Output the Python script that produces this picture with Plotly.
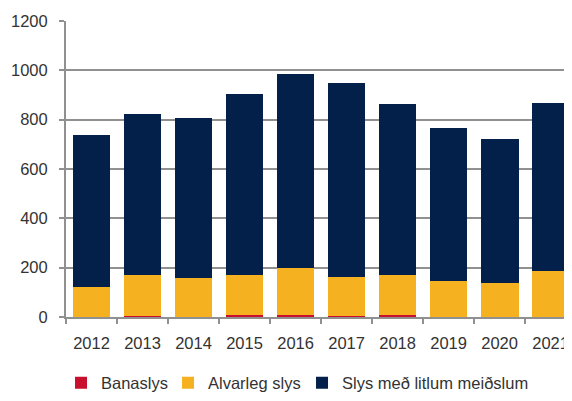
import plotly.graph_objects as go

years = ["2012", "2013", "2014", "2015", "2016", "2017", "2018", "2019", "2020", "2021"]
banaslys = [1, 4, 1, 8, 8, 4, 8, 1, 1, 1]
alvarleg = [119, 165, 159, 161, 189, 160, 161, 144, 135, 187]
litlum = [617, 652, 646, 737, 787, 786, 696, 622, 587, 680]
names = ["Banaslys", "Alvarleg slys", "Slys með litlum meiðslum"]
colors = ["#c8102e", "#f5b120", "#03204a"]
legend_widths = [62, 89, 190]

fig = go.Figure()
for vals, name, col, lw in zip([banaslys, alvarleg, litlum], names, colors, legend_widths):
    fig.add_trace(go.Bar(x=years, y=vals, name=name, marker=dict(color=col, line=dict(width=0)),
                         legendwidth=lw))

# page body has an 8px default margin, so the figure is sized/offset to compensate
fig.update_layout(
    barmode="stack",
    bargap=0.26,
    width=564, height=385,
    margin=dict(l=55, r=3, t=13, b=76),
    paper_bgcolor="white", plot_bgcolor="white",
    font=dict(family="Liberation Sans, Arial, sans-serif", size=16.5, color="#333333"),
    showlegend=True,
    legend=dict(orientation="h", xref="container", yref="container", x=0.094, y=0.026,
                xanchor="left", yanchor="middle", font=dict(size=16.5, color="#333333"),
                traceorder="normal", bgcolor="rgba(0,0,0,0)"),
    xaxis=dict(type="category", range=[-0.5, 9.36], showline=True, linecolor="#909090", linewidth=2,
               ticks="outside", tickson="boundaries", ticklen=5, tickcolor="#909090", tickwidth=2,
               ticklabelstandoff=10, showgrid=False),
    yaxis=dict(range=[0, 1200], tickvals=[0, 200, 400, 600, 800, 1000, 1200], showline=True,
               linecolor="#909090", linewidth=2, ticks="outside", ticklen=5, tickcolor="#909090",
               tickwidth=2, gridcolor="#909090", gridwidth=2, zeroline=False, ticklabelstandoff=8),
)

fig.write_html("out.html")
